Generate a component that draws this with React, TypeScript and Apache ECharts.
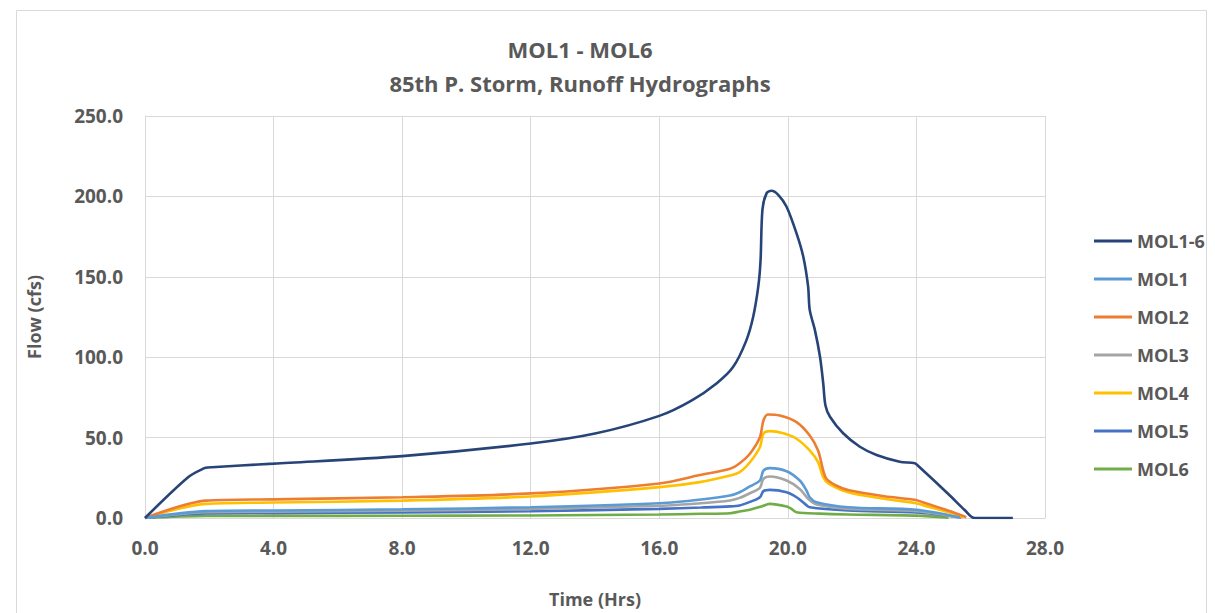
import React, { useEffect, useRef } from "react";
import * as echarts from "echarts";

const titleLine1 = "MOL1 - MOL6";
const titleLine2 = "85th P. Storm, Runoff Hydrographs";
const xAxisTitle = "Time (Hrs)";
const yAxisTitle = "Flow (cfs)";

const seriesNames = ["MOL1-6", "MOL1", "MOL2", "MOL3", "MOL4", "MOL5", "MOL6"];
const seriesColors = ["#264478", "#5B9BD5", "#ED7D31", "#A5A5A5", "#FFC000", "#4472C4", "#70AD47"];

const mol16Time = [0, 1.35, 1.85, 1.95, 4, 8, 12, 14, 16, 17, 17.8, 18.3, 18.7, 18.92, 19.08, 19.15, 19.21, 19.34, 19.49, 19.7, 19.96, 20.27, 20.48, 20.63, 20.68, 20.84, 21.0, 21.1, 21.17, 21.31, 21.72, 22.24, 22.76, 23.48, 23.95, 24.05, 25.0, 25.5, 25.8, 27.0];
const mol16Flow = [0, 25.5, 31.0, 31.4, 33.8, 38.5, 46.3, 52.5, 63.5, 73, 84, 94, 110, 125, 144, 160, 192, 202, 203.5, 201, 193.6, 177, 162.5, 144, 129.4, 117, 100.3, 83.8, 70, 63, 52.7, 44.3, 39.2, 35, 34.0, 32.5, 14.8, 5, 0, 0];

const mol1Time = [0, 1.9, 4, 8, 12, 16, 17.3, 18.2, 18.5, 18.82, 19.13, 19.24, 19.44, 19.96, 20.37, 20.58, 20.68, 20.89, 21.88, 24, 25.35];
const mol1Flow = [0, 4.3, 4.7, 5.4, 6.7, 9.2, 11.5, 14, 16, 19.6, 23.3, 29.5, 31, 29.1, 23.3, 17.1, 12.9, 9.8, 6.7, 5.1, 0.3];

const mol2Time = [0, 1.9, 4, 8, 12, 16, 17.26, 18.2, 18.5, 18.82, 19.13, 19.24, 19.38, 19.75, 20.27, 20.68, 20.94, 21.1, 21.2, 21.5, 21.9, 23, 23.95, 24.05, 25, 25.55];
const mol2Flow = [0, 10.8, 11.6, 12.9, 15.3, 21.5, 26.7, 30.6, 34, 40, 50.2, 60.6, 64.4, 63.7, 59.6, 51.3, 42, 29.5, 24.4, 20.2, 17.2, 13.5, 11.4, 10.8, 4.5, 0.5];

const mol3Time = [0, 1.9, 4, 8, 12, 16, 17.3, 18.2, 18.5, 18.82, 19.13, 19.24, 19.44, 19.96, 20.37, 20.63, 20.9, 21.88, 24, 25.35];
const mol3Flow = [0, 3.6, 3.9, 4.6, 5.7, 7.6, 9.2, 10.9, 12.5, 15.4, 18.8, 24.4, 25.8, 23.3, 18.1, 11.9, 8.4, 5.7, 4.3, 0.3];

const mol4Time = [0, 1.9, 4, 8, 12, 16, 17.26, 18.2, 18.5, 18.82, 19.13, 19.24, 19.44, 19.86, 20.27, 20.68, 20.94, 21.1, 21.26, 21.88, 23, 23.95, 24.05, 25, 25.45];
const mol4Flow = [0, 8.8, 9.6, 10.8, 13.4, 19.2, 22.3, 26.4, 28.5, 34.7, 44, 52.4, 54, 52.7, 49.3, 42, 34.7, 25.4, 21.6, 16, 12, 9.3, 8.8, 3.5, 0.5];

const mol5Time = [0, 1.9, 4, 8, 12, 16, 17.3, 18.2, 18.5, 18.82, 19.13, 19.24, 19.44, 19.96, 20.27, 20.53, 20.68, 21.88, 24, 25.4];
const mol5Flow = [0, 2.8, 3.0, 3.5, 4.2, 5.7, 6.5, 7.2, 7.8, 10.0, 12.9, 16.7, 17.5, 16, 12.9, 8.8, 6.7, 4.7, 3.4, 0.3];

const mol6Time = [0, 1.9, 4, 8, 12, 16, 17.3, 18.2, 18.5, 18.82, 19.18, 19.44, 19.96, 20.11, 20.27, 21, 21.88, 24, 25.0];
const mol6Flow = [0, 1.2, 1.3, 1.4, 1.6, 2.2, 2.6, 3.0, 4.0, 5.1, 7.2, 8.8, 7.2, 5.7, 3.6, 2.7, 2.2, 1.5, 0.2];

const seriesTimes = [mol16Time, mol1Time, mol2Time, mol3Time, mol4Time, mol5Time, mol6Time];
const seriesFlows = [mol16Flow, mol1Flow, mol2Flow, mol3Flow, mol4Flow, mol5Flow, mol6Flow];

const FONT = "'Open Sans', 'Noto Sans', sans-serif";
const TEXT_COLOR = "#595959";
const GRID_COLOR = "#d9d9d9";

export default function App() {
  const ref = useRef<HTMLDivElement>(null);

  useEffect(() => {
    if (!ref.current) return;
    const chart = echarts.init(ref.current, undefined, { renderer: "svg" });

    const series = seriesNames.map((name, i) => ({
      name,
      type: "line",
      data: seriesTimes[i].map((t, j) => [t, seriesFlows[i][j]]),
      showSymbol: false,
      symbol: "none",
      smooth: 0.3,
      lineStyle: { width: 2.6, color: seriesColors[i] },
      itemStyle: { color: seriesColors[i] },
      z: 10 - i,
    }));

    chart.setOption({
      animation: false,
      backgroundColor: "#ffffff",
      textStyle: { fontFamily: FONT },
      title: [
        {
          text: titleLine1,
          left: 575,
          top: 33,
          textAlign: "center",
          textStyle: { fontFamily: FONT, fontSize: 22, fontWeight: "bold", color: TEXT_COLOR },
        },
        {
          text: titleLine2,
          left: 575,
          top: 67,
          textAlign: "center",
          textStyle: { fontFamily: FONT, fontSize: 22, fontWeight: "bold", color: TEXT_COLOR },
        },
      ],
      graphic: [
        {
          type: "rect",
          shape: { x: 16.5, y: 10.5, width: 1190, height: 640 },
          style: { fill: "none", stroke: GRID_COLOR, lineWidth: 1 },
          silent: true,
          z: -10,
        },
      ],
      legend: {
        orient: "vertical",
        left: 1089,
        top: 227,
        icon: "rect",
        itemWidth: 38,
        itemHeight: 3,
        itemGap: 20,
        data: seriesNames,
        textStyle: { fontFamily: FONT, fontSize: 18, fontWeight: "bold", color: TEXT_COLOR },
      },
      grid: { left: 145, right: 170, top: 116, bottom: 95, containLabel: false },
      xAxis: {
        type: "value",
        min: 0,
        max: 28,
        interval: 4,
        name: xAxisTitle,
        nameLocation: "middle",
        nameGap: 72,
        nameTextStyle: { fontFamily: FONT, fontSize: 18, fontWeight: "bold", color: TEXT_COLOR },
        axisLine: { show: true, lineStyle: { color: GRID_COLOR, width: 1 } },
        axisTick: { show: false },
        splitLine: { show: true, lineStyle: { color: GRID_COLOR, width: 1 } },
        axisLabel: {
          margin: 20,
          fontFamily: FONT,
          fontSize: 19,
          fontWeight: "bold",
          color: TEXT_COLOR,
          formatter: (v: number) => v.toFixed(1),
        },
      },
      yAxis: {
        type: "value",
        min: 0,
        max: 250,
        interval: 50,
        name: yAxisTitle,
        nameLocation: "middle",
        nameGap: 102,
        nameTextStyle: { fontFamily: FONT, fontSize: 18, fontWeight: "bold", color: TEXT_COLOR },
        axisLine: { show: true, lineStyle: { color: GRID_COLOR, width: 1 } },
        axisTick: { show: false },
        splitLine: { show: true, lineStyle: { color: GRID_COLOR, width: 1 } },
        axisLabel: {
          margin: 22,
          fontFamily: FONT,
          fontSize: 19,
          fontWeight: "bold",
          color: TEXT_COLOR,
          formatter: (v: number) => v.toFixed(1),
        },
      },
      series,
    });

    return () => chart.dispose();
  }, []);

  return (
    <div
      ref={ref}
      style={{ position: "absolute", left: 0, top: 0, width: 1215, height: 613, background: "#fff" }}
    />
  );
}
